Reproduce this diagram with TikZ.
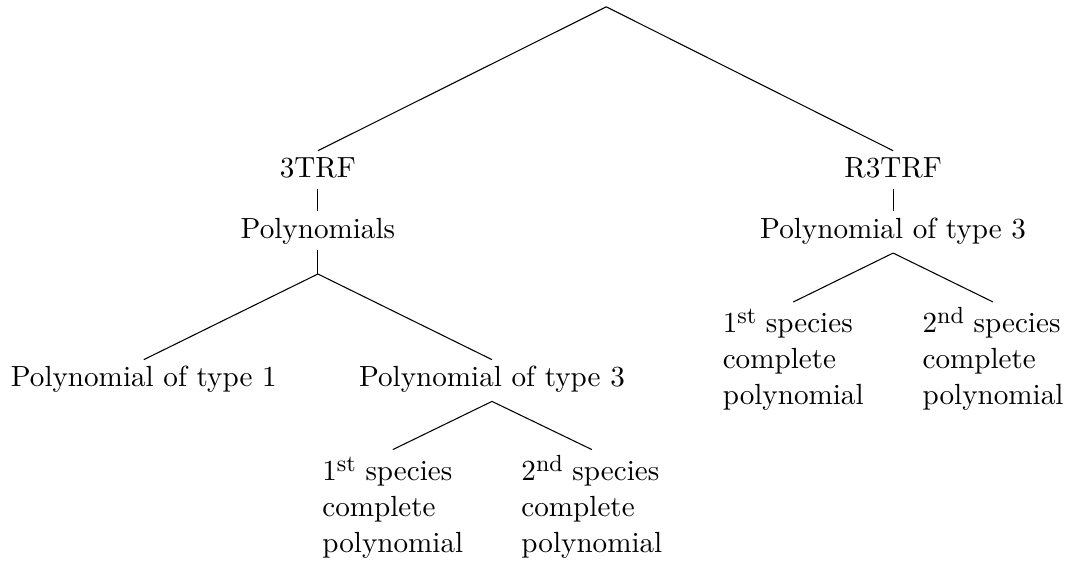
\documentclass[tikz,border=0pt]{standalone}
\newcommand{\ordsup}[1]{\raisebox{3.4pt}[9.4pt][0pt]{\fontsize{8.8}{8.8}\selectfont #1}}
\begin{document}
\begin{tikzpicture}[
  every node/.style={font=\fontsize{10.95}{13.6}\selectfont},
  lbl/.style={anchor=base, inner sep=0pt, text height=10pt, text depth=4pt},
  fork/.style={lbl, text depth=5.3pt},
  leaf/.style={anchor=north, align=left, inner xsep=0pt, inner ysep=1.9pt}]
\useasboundingbox (0,0) rectangle (14.15,7.44);

\coordinate (root) at (8.01,7.35);
\node[lbl] (trf) at (4.2,5.09) {3TRF};
\node[lbl] (rtrf) at (11.8,5.09) {R3TRF};
\node[lbl] (polys) at (4.2,4.29) {Polynomials};
\node[fork] (rpoly) at (11.8,4.29) {Polynomial of type 3};
\coordinate (split) at (4.2,3.82);
\node[lbl] (poly1) at (1.9,2.33) {Polynomial of type 1};
\node[fork] (poly3) at (6.5,2.33) {Polynomial of type 3};
\node[leaf] (lsp1) at (5.19,1.5) {1\ordsup{st} species\\complete\\polynomial};
\node[leaf] (lsp2) at (7.82,1.5) {2\ordsup{nd} species\\complete\\polynomial};
\node[leaf] (rsp1) at (10.48,3.45) {1\ordsup{st} species\\complete\\polynomial};
\node[leaf] (rsp2) at (13.12,3.45) {2\ordsup{nd} species\\complete\\polynomial};

\draw (root)--(trf.north);
\draw (root)--(rtrf.north);
\draw (trf.south)--(polys.north);
\draw (polys.south)--(split);
\draw (split)--(poly1.north);
\draw (split)--(poly3.north);
\draw (poly3.south)--(lsp1.north);
\draw (poly3.south)--(lsp2.north);
\draw (rtrf.south)--(rpoly.north);
\draw (rpoly.south)--(rsp1.north);
\draw (rpoly.south)--(rsp2.north);
\end{tikzpicture}
\end{document}
